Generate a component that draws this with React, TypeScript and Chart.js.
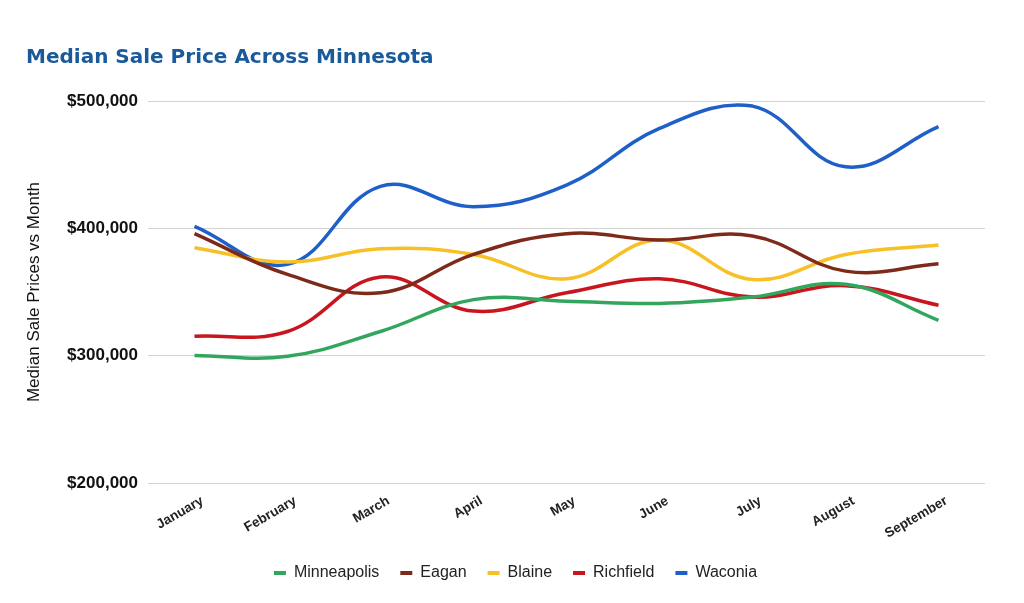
import React, { useEffect, useRef } from "react";
import { Chart, registerables } from "chart.js";

Chart.register(...registerables);

const months = ["January", "February", "March", "April", "May", "June", "July", "August", "September"];
const minneapolis = [300200, 299500, 319000, 344000, 342800, 341000, 346000, 356000, 327800];
const eagan = [395800, 363800, 349400, 379500, 395800, 390800, 394000, 366400, 372200];
const blaine = [384800, 373500, 384000, 379500, 360400, 390800, 359800, 379500, 386900];
const richfield = [315200, 319000, 361700, 335000, 349400, 360400, 346000, 355000, 339600];
const waconia = [401500, 371700, 433000, 417000, 434000, 478500, 496000, 448300, 479800];

const seriesNames = ["Minneapolis", "Eagan", "Blaine", "Richfield", "Waconia"];
const seriesColors = ["#33a65e", "#7d2a1a", "#f6c026", "#c8151e", "#1f5fc8"];
const yTicks = [200000, 300000, 400000, 500000];

const shiftLegend = {
  id: "shiftLegend",
  afterLayout(chart: any) {
    const l = chart.legend;
    if (l) {
      l.left += 10;
      l.right += 10;
    }
  },
};

export default function App() {
  const ref = useRef<HTMLCanvasElement | null>(null);

  useEffect(() => {
    document.body.style.margin = "0";
    const values = [minneapolis, eagan, blaine, richfield, waconia];
    const chart = new Chart(ref.current as HTMLCanvasElement, {
      type: "line",
      data: {
        labels: months,
        datasets: seriesNames.map((name, i) => ({
          label: name,
          data: values[i],
          borderColor: seriesColors[i],
          backgroundColor: seriesColors[i],
          borderWidth: 3.5,
          pointRadius: 0,
          pointHoverRadius: 0,
          tension: 0.4,
          fill: false,
        })),
      },
      options: {
        animation: false,
        responsive: false,
        maintainAspectRatio: false,
        layout: { padding: { left: 26, right: 39, top: 0, bottom: 12 } },
        plugins: {
          title: {
            display: true,
            text: "Median Sale Price Across Minnesota",
            align: "start",
            color: "#1b5a9a",
            font: { family: "DejaVu Sans", size: 20, weight: "bold", lineHeight: 1.2 },
            padding: { top: 46, bottom: 31 },
          },
          legend: {
            display: true,
            position: "bottom",
            labels: {
              boxWidth: 12,
              boxHeight: 4,
              padding: 21,
              color: "#222",
              font: { family: "Liberation Sans", size: 16 },
              generateLabels: (c: any) => {
                const items = (Chart.defaults.plugins.legend.labels as any).generateLabels(c);
                return items.map((it: any) => ({ ...it, lineWidth: 0, strokeStyle: "transparent" }));
              },
            },
          },
          tooltip: { enabled: false },
        },
        scales: {
          x: {
            type: "category",
            offset: true,
            grid: { display: false, drawTicks: false },
            border: { display: false },
            ticks: {
              color: "#222",
              font: { family: "Liberation Sans", size: 13.5, weight: "bold" },
              minRotation: 30,
              maxRotation: 30,
              padding: 10,
              labelOffset: 8,
              autoSkip: false,
            },
            afterFit: (s: any) => {
              s.height = 61;
            },
          },
          y: {
            min: 200000,
            max: 500000,
            grid: { color: "#d3d3d3", lineWidth: 1, drawTicks: false },
            border: { display: false },
            afterBuildTicks: (s: any) => {
              s.ticks = yTicks.map((v) => ({ value: v }));
            },
            ticks: {
              color: "#111",
              padding: 10,
              font: { family: "Liberation Sans", size: 17, weight: "bold" },
              callback: (v: any) => "$" + Number(v).toLocaleString("en-US"),
            },
            title: {
              display: true,
              text: "Median Sale Prices vs Month",
              color: "#111",
              font: { family: "Liberation Sans", size: 17, lineHeight: 1 },
              padding: { top: 0, bottom: 0 },
            },
            afterFit: (s: any) => {
              s.width = 122;
            },
          },
        },
      },
      plugins: [shiftLegend],
    });
    return () => chart.destroy();
  }, []);

  return (
    <div style={{ position: "absolute", left: 0, top: 0, width: 1024, height: 603, background: "#fff" }}>
      <canvas ref={ref} width={1024} height={603} style={{ width: 1024, height: 603, display: "block" }} />
    </div>
  );
}
